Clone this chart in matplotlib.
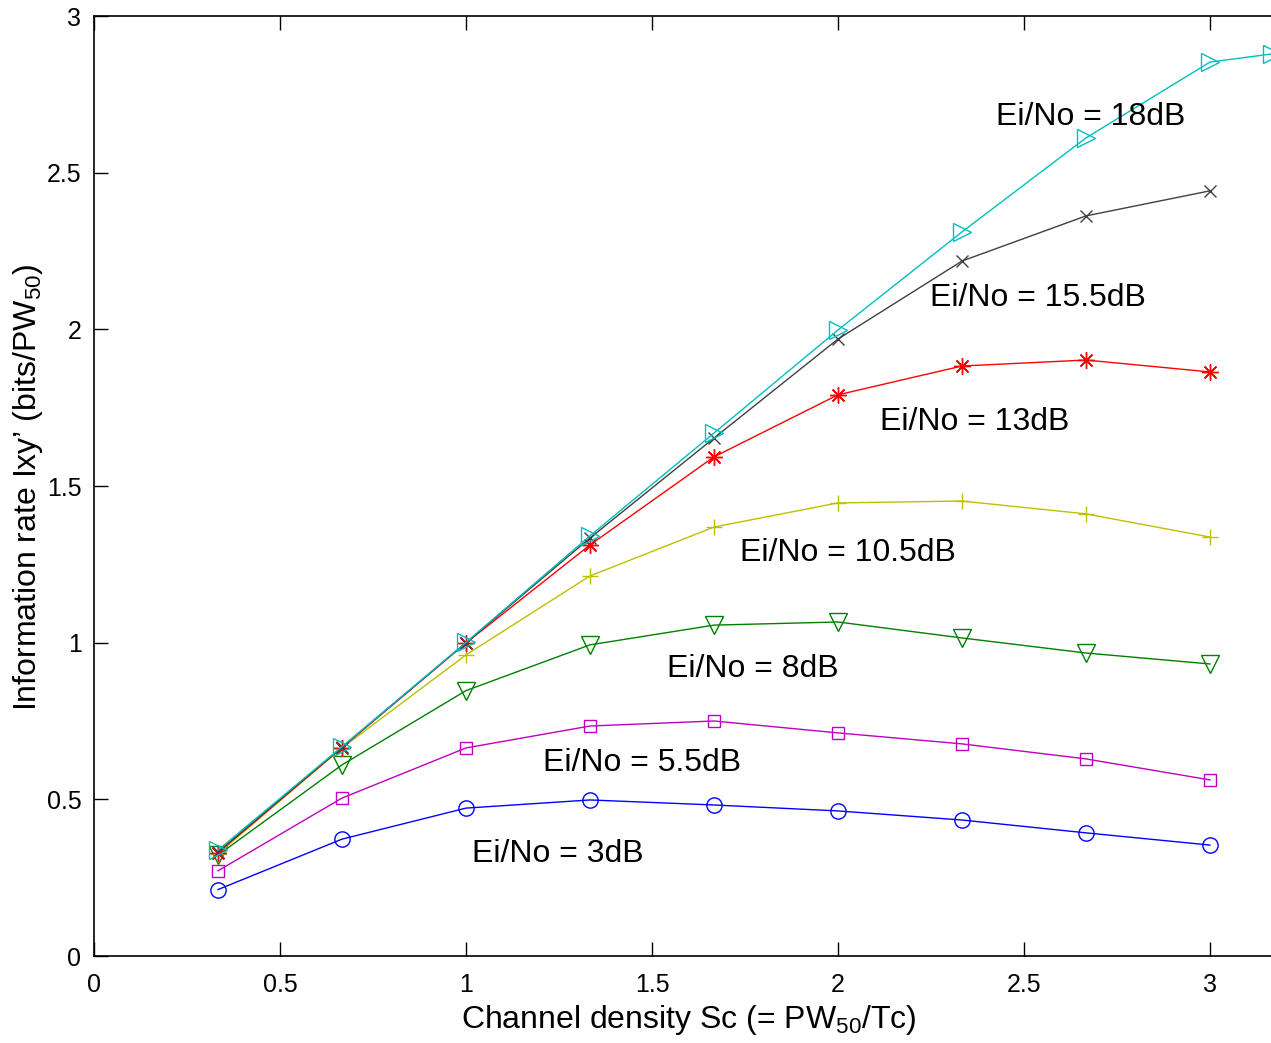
import numpy as np
import matplotlib
matplotlib.use('Agg')
import matplotlib.pyplot as plt

plt.rcParams['font.family'] = ['Liberation Sans', 'DejaVu Sans']
plt.rcParams['mathtext.fontset'] = 'custom'
plt.rcParams['mathtext.rm'] = 'Liberation Sans'
plt.rcParams['mathtext.it'] = 'Liberation Sans:italic'

# channel density Sc
sc = [1/3, 2/3, 1, 4/3, 5/3, 2, 7/3, 8/3, 3]
sc_18 = sc + [19/6]

# information rate for each Ei/No
ir_3 = [0.212, 0.373, 0.472, 0.498, 0.482, 0.463, 0.434, 0.393, 0.354]
ir_5_5 = [0.272, 0.504, 0.664, 0.734, 0.750, 0.712, 0.677, 0.629, 0.562]
ir_8 = [0.322, 0.610, 0.847, 0.993, 1.056, 1.066, 1.015, 0.967, 0.932]
ir_10_5 = [0.326, 0.664, 0.961, 1.213, 1.369, 1.446, 1.452, 1.411, 1.337]
ir_13 = [0.330, 0.665, 0.999, 1.312, 1.593, 1.791, 1.883, 1.902, 1.864]
ir_15_5 = [0.332, 0.667, 1.000, 1.334, 1.653, 1.969, 2.218, 2.362, 2.442]
ir_18 = [0.338, 0.668, 1.001, 1.341, 1.669, 1.998, 2.311, 2.611, 2.853, 2.879]

labels = ['Ei/No = 3dB', 'Ei/No = 5.5dB', 'Ei/No = 8dB', 'Ei/No = 10.5dB',
          'Ei/No = 13dB', 'Ei/No = 15.5dB', 'Ei/No = 18dB']
label_x = [1.016, 1.207, 1.540, 1.737, 2.113, 2.247, 2.425]
label_y = [0.326, 0.616, 0.916, 1.286, 1.704, 2.100, 2.678]

ticks = [0, 0.5, 1, 1.5, 2, 2.5, 3]
tick_labels = ['0', '0.5', '1', '1.5', '2', '2.5', '3']

fig = plt.figure(figsize=(12.71, 10.43), dpi=100)
# axes runs past the right edge like the cropped original
ax = fig.add_axes([94/1271, 87/1043, 3.2*372/1271, 940/1043])

series = [
    (sc, ir_3, (0, 0, 1), 'o', 11),
    (sc, ir_5_5, (0.75, 0, 0.75), 's', 9),
    (sc, ir_8, (0, 0.5, 0), 'v', 13),
    (sc, ir_10_5, (0.75, 0.75, 0), '+', 12),
    (sc, ir_13, (1, 0, 0), (8, 2, 0), 12),
    (sc, ir_15_5, (0.25, 0.25, 0.25), 'x', 9),
    (sc_18, ir_18, (0, 0.75, 0.75), '>', 13),
]
for xs, ys, c, m, ms in series:
    ax.plot(xs, ys, color=c, marker=m, markersize=ms, markerfacecolor='none',
            markeredgecolor=c, markeredgewidth=1.0, linewidth=1.0,
            clip_on=False)

for t, x, y in zip(labels, label_x, label_y):
    ax.text(x, y, t, fontsize=23, ha='left', va='center')

ax.set_xlim(0, 3.2)
ax.set_ylim(0, 3)
ax.set_xticks(ticks)
ax.set_xticklabels(tick_labels)
ax.set_yticks(ticks)
ax.set_yticklabels(tick_labels)
ax.tick_params(direction='in', length=10, width=1, labelsize=18, top=True)
ax.tick_params(axis='x', pad=12)
ax.tick_params(axis='y', pad=9)
for s in ax.spines.values():
    s.set_linewidth(1.2)

ax.set_xlabel('Channel density Sc (= PW$_{50}$/Tc)', fontsize=23)
ax.set_ylabel('Information rate Ixy\u2019 (bits/PW$_{50}$)', fontsize=23)
ax.xaxis.set_label_coords(595/(3.2*372), -0.05)
ax.yaxis.set_label_coords(28/1271, (1043-487)/1043, transform=fig.transFigure)
ax.yaxis.label.set_va('center')

fig.savefig('out.png', dpi=100)
